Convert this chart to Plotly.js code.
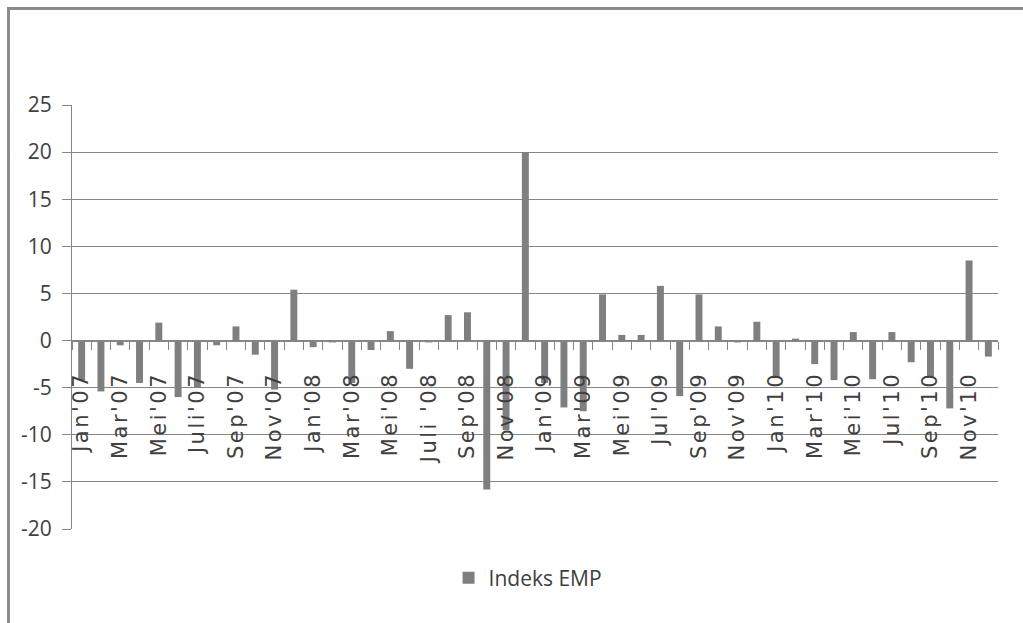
<!DOCTYPE html>
<html>
<head>
<meta charset="utf-8">
<script src="https://cdn.plot.ly/plotly-3.0.1.min.js"></script>
<style>
  html, body { margin: 0; padding: 0; background: #ffffff; }
  #chart { width: 1023px; height: 623px; }
  #frame { position: absolute; left: 7px; top: 7px; width: 1020px; height: 620px;
           border-top: 3px solid #8c8c8c; border-left: 3px solid #8c8c8c; pointer-events: none; }
  #chart .xtick text { letter-spacing: 2.5px; }
</style>
</head>
<body>
<div id="chart"></div>
<div id="frame"></div>
<script>
const months = [
  "Jan'07","Feb'07","Mar'07","Apr'07","Mei'07","Jun'07","Juli'07","Agu'07","Sep'07","Okt'07","Nov'07","Des'07",
  "Jan'08","Feb'08","Mar'08","Apr'08","Mei'08","Jun'08","Juli '08","Agu'08","Sep'08","Okt'08","Nov'08","Des'08",
  "Jan'09","Feb'09","Mar'09","Apr'09","Mei'09","Jun'09","Jul'09","Agu'09","Sep'09","Okt'09","Nov'09","Des'09",
  "Jan'10","Feb'10","Mar'10","Apr'10","Mei'10","Jun'10","Jul'10","Agu'10","Sep'10","Okt'10","Nov'10","Des'10"
];
const empIndex = [
  -4.2, -5.4, -0.5, -4.5, 1.9, -6.0, -5.0, -0.5, 1.5, -1.5, -5.2, 5.4,
  -0.7, -0.2, -4.5, -1.0, 1.0, -3.0, -0.2, 2.7, 3.0, -15.8, -9.5, 20.0,
  -4.5, -7.1, -7.5, 4.9, 0.6, 0.6, 5.8, -5.9, 4.9, 1.5, -0.2, 2.0,
  -4.0, 0.2, -2.5, -4.2, 0.9, -4.1, 0.9, -2.3, -3.8, -7.2, 8.5, -1.7
];
const tickLabels = [
  "Jan'07","","Mar'07","","Mei'07","","Juli'07","","Sep'07","","Nov'07","",
  "Jan'08","","Mar'08","","Mei'08","","Juli '08","","Sep'08","","Nov'08","",
  "Jan'09","","Mar'09","","Mei'09","","Jul'09","","Sep'09","","Nov'09","",
  "Jan'10","","Mar'10","","Mei'10","","Jul'10","","Sep'10","","Nov'10",""
];
const yTicks = [-20, -15, -10, -5, 0, 5, 10, 15, 20, 25];
const yTickText = ["-20", "-15", "-10", "-5", "0", "5", "10", "15", "20", "25"];
const seriesName = "Indeks EMP";

const trace = {
  type: 'bar',
  x: months,
  y: empIndex,
  name: seriesName,
  marker: { color: '#7f7f7f' },
  showlegend: true
};

const layout = {
  width: 1023, height: 623,
  margin: { l: 72, r: 25, t: 105, b: 94, pad: 0 },
  paper_bgcolor: '#ffffff', plot_bgcolor: '#ffffff',
  bargap: 0.64,
  showlegend: true,
  legend: {
    orientation: 'h', x: 0.4925, xanchor: 'center', y: -0.116, yanchor: 'middle',
    font: { family: "'Open Sans', sans-serif", size: 21, color: '#404040' },
    itemwidth: 30
  },
  xaxis: {
    type: 'category',
    anchor: 'free', position: 20 / 45,
    tickmode: 'array', tickvals: months, ticktext: tickLabels,
    tickson: 'boundaries',
    ticks: 'outside', ticklen: 8, tickcolor: '#868686', tickwidth: 1,
    tickangle: -90, ticklabelstandoff: 22,
    tickfont: { family: "'DejaVu Sans', sans-serif", size: 21, color: '#404040' },
    showline: true, linecolor: '#868686', linewidth: 1,
    showgrid: false, zeroline: false,
    fixedrange: true
  },
  yaxis: {
    range: [-20, 25],
    tickmode: 'array', tickvals: yTicks, ticktext: yTickText,
    ticks: 'outside', ticklen: 9, tickcolor: '#868686',
    tickfont: { family: "'Open Sans', sans-serif", size: 21, color: '#404040' },
    ticklabelstandoff: 6,
    showline: true, linecolor: '#868686', linewidth: 1,
    showgrid: true, gridcolor: '#868686', gridwidth: 1,
    zeroline: false,
    fixedrange: true
  }
};

Plotly.newPlot('chart', [trace], layout, { displayModeBar: false, staticPlot: true });
</script>
</body>
</html>
